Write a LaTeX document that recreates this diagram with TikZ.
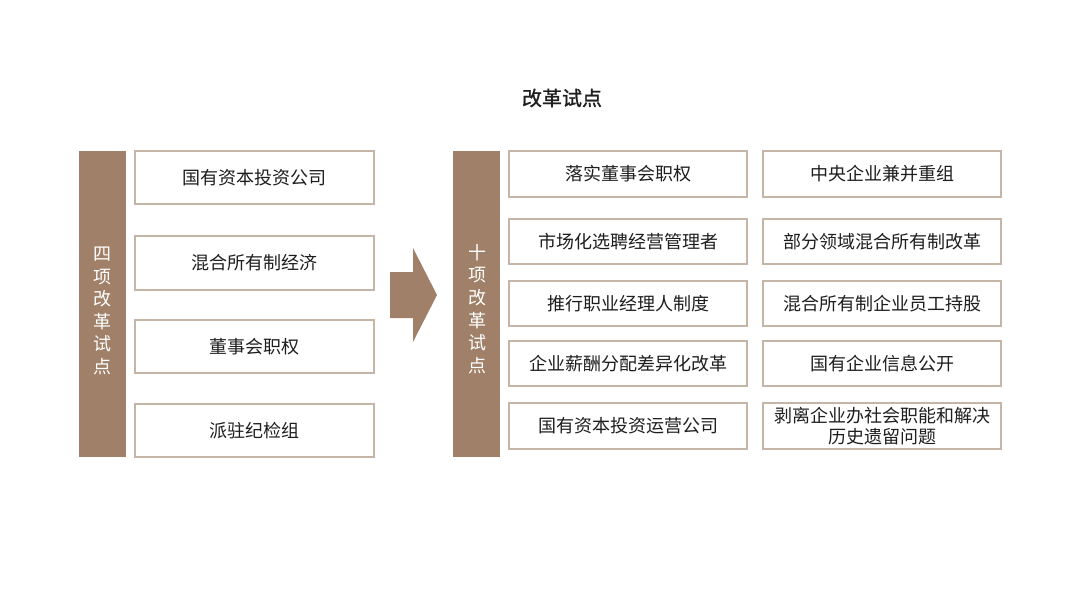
\documentclass[tikz,border=0pt]{standalone}
\usepackage{fontspec}
\setmainfont{Noto Sans CJK SC}
\newfontfamily\titlefont[FakeBold=1.2]{Noto Sans CJK SC}
\definecolor{brownbar}{HTML}{A08068}
\definecolor{boxline}{HTML}{C4B5A7}
\definecolor{txt}{HTML}{1E1E1E}
\begin{document}
\begin{tikzpicture}[x=1pt,y=-1pt,
  bar/.style={fill=brownbar,draw=none},
  itembox/.style={draw=boxline,line width=1.2pt,fill=white},
  itemtext/.style={font=\fontsize{18}{21}\selectfont,text=txt,align=center},
  vtext/.style={font=\fontsize{18}{22.6}\selectfont,text=white,align=center}]
\useasboundingbox (0,0) rectangle (1080,608);
\node[font=\fontsize{20}{22}\selectfont\titlefont,text=txt] (title) at (562,98) {改革试点};
% left bar
\fill[bar] (79,151) rectangle (126,457);
\node[vtext] (lbar) at (102.5,311) {四\\项\\改\\革\\试\\点};
% left boxes
\draw[itembox] (135,151) rectangle (374,204);
\node[itemtext] (l1) at (254.5,177.5) {国有资本投资公司};
\draw[itembox] (135,236) rectangle (374,290);
\node[itemtext] (l2) at (254.5,263) {混合所有制经济};
\draw[itembox] (135,320) rectangle (374,373);
\node[itemtext] (l3) at (254.5,346.5) {董事会职权};
\draw[itembox] (135,404) rectangle (374,457);
\node[itemtext] (l4) at (254.5,430.5) {派驻纪检组};
% arrow
\fill[brownbar] (390,272) -- (413,272) -- (413,248) -- (437,295) -- (413,342) -- (413,318) -- (390,318) -- cycle;
% right bar
\fill[bar] (453,151) rectangle (500,457);
\node[vtext] (rbar) at (477,309) {十\\项\\改\\革\\试\\点};
% right boxes
\foreach \ya/\yb/\ta/\tb [count=\i] in {
  151/197/落实董事会职权/中央企业兼并重组,
  219/264/市场化选聘经营管理者/部分领域混合所有制改革,
  281/326/推行职业经理人制度/混合所有制企业员工持股,
  341/386/企业薪酬分配差异化改革/国有企业信息公开,
  403/449/国有资本投资运营公司/{剥离企业办社会职能和解决\\历史遗留问题}}{
  \draw[itembox] (509,\ya) rectangle (747,\yb);
  \node[itemtext] (ra\i) at (628,{(\ya+\yb)/2}) {\ta};
  \draw[itembox] (763,\ya) rectangle (1001,\yb);
  \node[itemtext,font=\fontsize{18}{20.5}\selectfont] (rb\i) at (882,{(\ya+\yb)/2}) {\tb};
}
\end{tikzpicture}
\end{document}
